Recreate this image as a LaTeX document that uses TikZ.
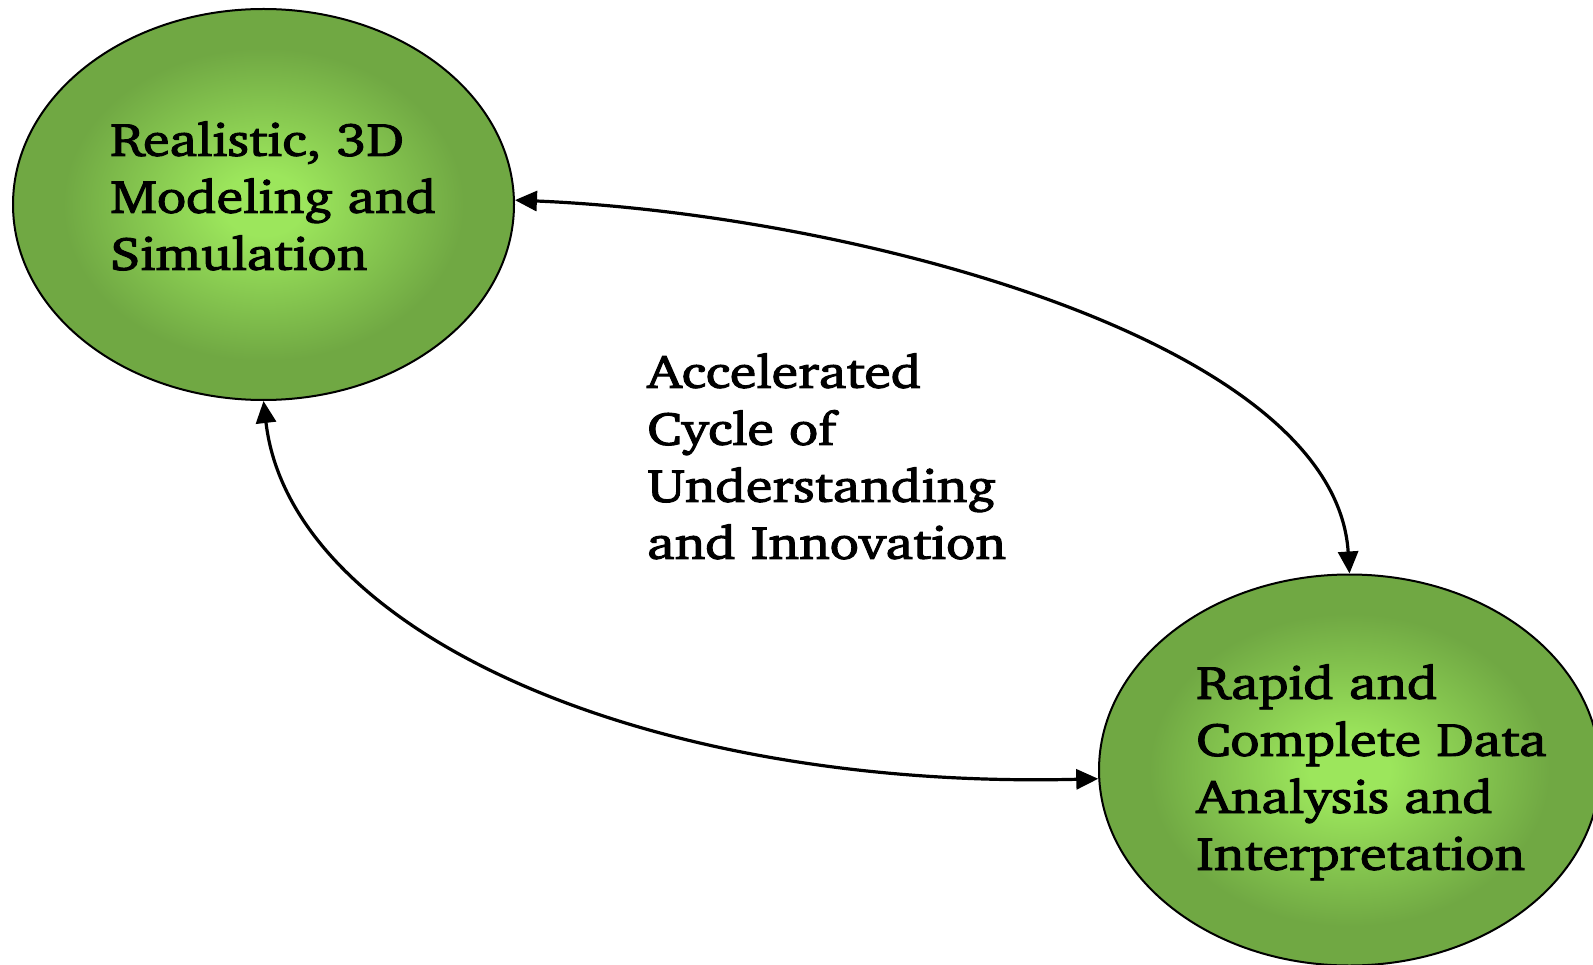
\documentclass[tikz,border=0pt]{standalone}
\usepackage[T1]{fontenc}
\usepackage{charter}
\usepackage{graphicx}
\usetikzlibrary{arrows.meta,shapes.geometric}

\definecolor{leafcore}{HTML}{9CE65C}
\definecolor{leafrim}{HTML}{70A843}
\pgfdeclareradialshading{leafglow}{\pgfpoint{0bp}{0bp}}{%
  color(0bp)=(leafcore); color(4bp)=(leafcore);
  color(20bp)=(leafrim); color(50bp)=(leafrim)}

% widened, slightly heavier, left-aligned block of lines
\newcommand\wideblock[1]{\scalebox{1.15}[1]{%
  \special{pdf:literal direct 2 Tr 0.9 w}%
  \begin{tabular}[t]{@{}l@{}}#1\end{tabular}%
  \special{pdf:literal direct 0 Tr}}}

\tikzset{
  blob/.style={ellipse, draw=black, line width=2pt, shade, shading=leafglow,
               minimum width=501pt, minimum height=391pt, inner sep=0pt},
  caption/.style={anchor=base west, inner sep=0pt, text=black,
                  font=\fontsize{47}{57}\selectfont},
  loop/.style={line width=3.2pt,
               {Triangle[length=22pt,width=20pt]}-{Triangle[length=22pt,width=20pt]}}
}

\begin{document}
\begin{tikzpicture}[x=1pt,y=-1pt]
  \useasboundingbox (0,0) rectangle (1593,965);

  % the two stages of the cycle
  \node[blob] (model) at (263.5,204.5) {};
  \node[blob] (data) at (1349.5,770) {};

  \node[caption] (modeltext) at (110,156)
    {\wideblock{Realistic, 3D\\Modeling and\\Simulation}};
  \node[caption] (datatext) at (1196,699)
    {\wideblock{Rapid and\\Complete Data\\Analysis and\\Interpretation}};
  \node[caption] (cycletext) at (647,388)
    {\wideblock{Accelerated\\Cycle of\\Understanding\\and Innovation}};

  % connectors closing the loop
  \draw[loop] (model.1) .. controls (850,214) and (1335,340) .. (data.north);
  \draw[loop] (model.south) .. controls (290,630) and (640,790) .. (data.182);
\end{tikzpicture}
\end{document}
